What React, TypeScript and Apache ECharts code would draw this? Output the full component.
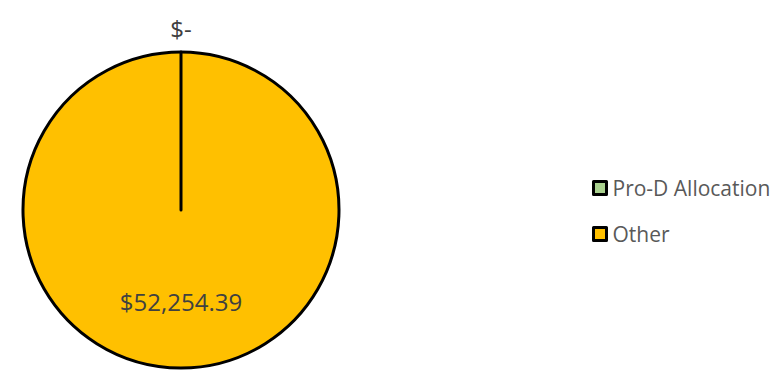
import React, { useEffect, useRef } from "react";
import * as echarts from "echarts";

const categories = ["Pro-D Allocation", "Other"];
const values = [0, 52254.39];
const colors = ["#A9D18E", "#FFC000"];

const fmt = (v: number) =>
  v === 0
    ? "$-"
    : "$" + v.toLocaleString("en-US", { minimumFractionDigits: 2, maximumFractionDigits: 2 });

export default function App() {
  const ref = useRef<HTMLDivElement>(null);
  useEffect(() => {
    if (!ref.current) return;
    const chart = echarts.init(ref.current, undefined, { renderer: "svg" });
    // Draw "Other" first so that the zero slice's border line stays on top.
    const order = [1, 0];
    chart.setOption({
      animation: false,
      backgroundColor: "#ffffff",
      legend: {
        data: categories,
        orient: "vertical",
        left: 587,
        top: 172,
        itemWidth: 13,
        itemHeight: 13,
        itemGap: 24,
        icon: "rect",
        itemStyle: { borderColor: "#000000", borderWidth: 3 },
        textStyle: { color: "#595959", fontSize: 21, lineHeight: 22, fontFamily: "Open Sans", padding: [0, 0, 0, 1] },
      },
      series: [
        {
          type: "pie",
          center: [181, 210],
          radius: 158,
          startAngle: 90,
          clockwise: true,
          avoidLabelOverlap: false,
          itemStyle: { borderColor: "#000000", borderWidth: 3 },
          emphasis: { disabled: true },
          label: {
            color: "#404040",
            fontSize: 24,
            fontFamily: "Open Sans",
            formatter: (p: any) => fmt(p.value),
          },
          labelLine: { show: false, length: 8, length2: 0 },
          labelLayout: (p: any) => {
            if (p.dataIndex === 1) {
              return { x: p.rect.x + p.rect.width / 2, y: p.rect.y - 22, align: "center", verticalAlign: "middle" };
            }
            return { dy: 9 };
          },
          data: order.map((i) => ({
            name: categories[i],
            value: values[i],
            itemStyle: { color: colors[i] },
            label: { position: values[i] === 0 ? "outside" : "inside" },
          })),
        },
      ],
    });
    return () => chart.dispose();
  }, []);
  return <div ref={ref} style={{ position: "absolute", left: 0, top: 0, width: 770, height: 370 }} />;
}
